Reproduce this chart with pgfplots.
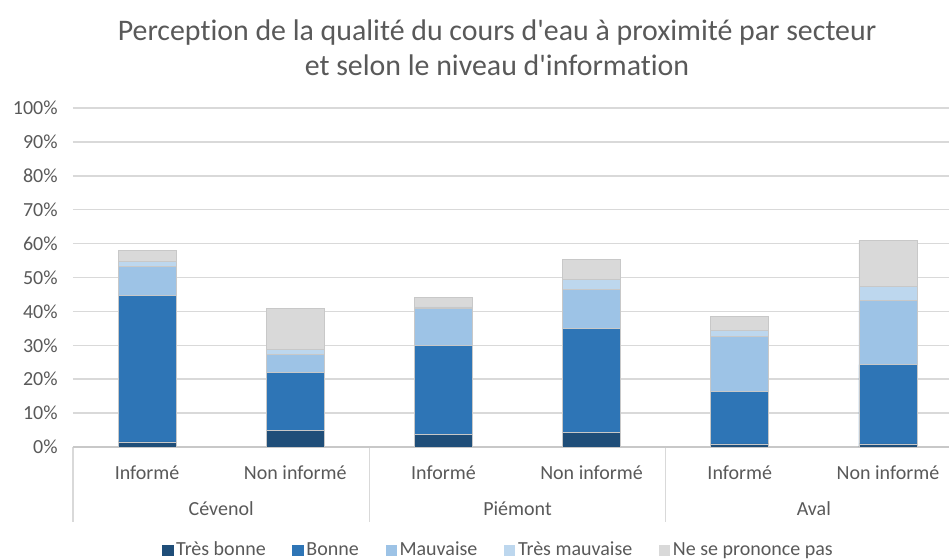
\documentclass[border=0pt]{standalone}
\usepackage{pgfplots}
\pgfplotsset{compat=1.18}
\usepackage{pgfplotstable}
\usepackage{fontspec}
\setmainfont{Carlito}[Ligatures=NoCommon]
\newfontfamily\titlefont{Carlito}[Ligatures={ResetAll}, RawFeature={-liga;-clig;-dlig}]
\definecolor{txt}{HTML}{595959}
\definecolor{cTB}{HTML}{1F4E79}
\definecolor{cB}{HTML}{2E75B6}
\definecolor{cM}{HTML}{9DC3E6}
\definecolor{cTM}{HTML}{BDD7EE}
\definecolor{cN}{HTML}{D9D9D9}
\definecolor{grid}{HTML}{D9D9D9}
\definecolor{edge}{HTML}{C8C8C8}
\pgfplotstableread{
x tb b m tm nsp
0 1.5 43.1 8.6 1.5 3.4
1 4.9 17.2 5.3 1.5 12.0
2 3.6 26.3 10.9 0.5 2.8
3 4.4 30.7 11.4 3.0 5.9
4 0.9 15.4 16.2 2.0 3.9
5 0.9 23.4 18.9 4.1 13.6
}\data
\begin{document}
\begin{tikzpicture}[font=\fontsize{15pt}{18pt}\selectfont, text=txt]
\begin{axis}[
  at={(0,0)}, anchor=south west,
  scale only axis, width=666.75pt, height=254.25pt,
  ybar stacked, bar width=43.5pt,
  xmin=-0.5, xmax=5.5, ymin=0, ymax=100,
  clip=false,
  axis line style={draw=none},
  major tick length=0pt,
  xtick=\empty,
  ytick={0,10,...,100},
  yticklabels={0\%,10\%,20\%,30\%,40\%,50\%,60\%,70\%,80\%,90\%,100\%},
  yticklabel style={text=txt, anchor=east, xshift=-8pt},
  ymajorgrids, major grid style={draw=grid, line width=1.1pt},
  every axis plot/.append style={draw=edge, line width=0.6pt},
  legend columns=5,
  legend style={draw=none, fill=none, at={(0.479,-0.3038)}, anchor=center,
    text=txt, font=\fontsize{15pt}{18pt}\selectfont,
    /tikz/every even column/.append style={column sep=18pt}},
  legend image code/.code={\fill[#1,draw=none] (0pt,-4.5pt) rectangle (8.5pt,4pt);},
]
\addplot[fill=cTB] table[x=x,y=tb]{\data};
\addplot[fill=cB] table[x=x,y=b]{\data};
\addplot[fill=cM] table[x=x,y=m]{\data};
\addplot[fill=cTM] table[x=x,y=tm]{\data};
\addplot[fill=cN] table[x=x,y=nsp]{\data};
\legend{Très bonne,Bonne,Mauvaise,Très mauvaise,Ne se prononce pas}
\draw[edge, line width=1.1pt] (axis cs:-0.5,0) -- (axis cs:5.5,0);
\draw[grid, line width=1.1pt] (axis cs:-0.5,0) -- ++(0pt,-56.25pt);
\draw[grid, line width=1.1pt] (axis cs:1.5,0) -- ++(0pt,-56.25pt);
\draw[grid, line width=1.1pt] (axis cs:3.5,0) -- ++(0pt,-56.25pt);
\draw[grid, line width=1.1pt] (axis cs:5.5,0) -- ++(0pt,-56.25pt);
\node[text=txt] at ([yshift=-19.5pt]axis cs:0,0) {Informé};
\node[text=txt] at ([yshift=-19.5pt]axis cs:1,0) {Non informé};
\node[text=txt] at ([yshift=-19.5pt]axis cs:2,0) {Informé};
\node[text=txt] at ([yshift=-19.5pt]axis cs:3,0) {Non informé};
\node[text=txt] at ([yshift=-19.5pt]axis cs:4,0) {Informé};
\node[text=txt] at ([yshift=-19.5pt]axis cs:5,0) {Non informé};
\node[text=txt] at ([yshift=-46.5pt]axis cs:0.5,0) {Cévenol};
\node[text=txt] at ([yshift=-46.5pt]axis cs:2.5,0) {Piémont};
\node[text=txt] at ([yshift=-46.5pt]axis cs:4.5,0) {Aval};
\end{axis}
\node[text=txt, align=center, font=\titlefont\fontsize{22.4pt}{26.25pt}\selectfont] at (318pt,299.6pt)
  {Perception de la qualité du cours d'eau à proximité par secteur\\et selon le niveau d'information};
\pgfresetboundingbox
\useasboundingbox (-54.75pt,-84.75pt) rectangle (657pt,335.25pt);
\end{tikzpicture}
\end{document}
